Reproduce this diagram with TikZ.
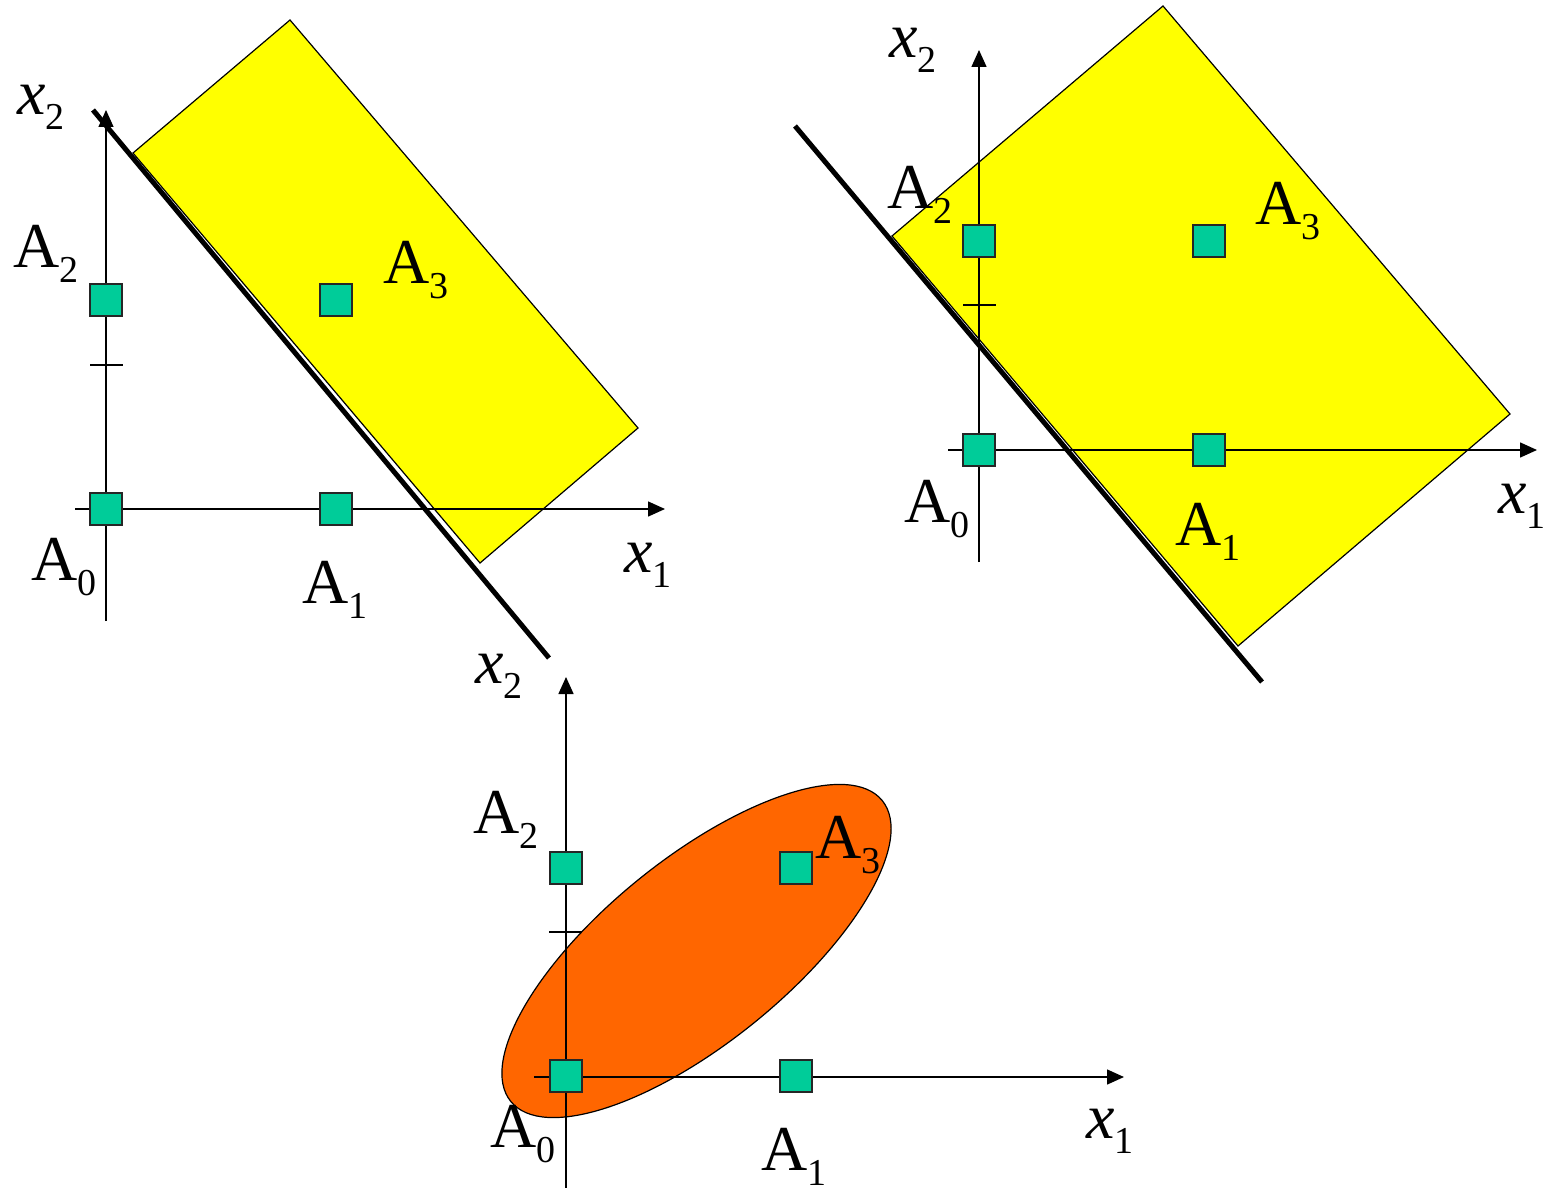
\documentclass[tikz,border=0pt]{standalone}
\usepackage{fontspec}
\setmainfont{Liberation Serif}
\usetikzlibrary{arrows.meta}
\definecolor{sqfill}{HTML}{00CC99}
\definecolor{yel}{HTML}{FFFF00}
\definecolor{org}{HTML}{FF6600}
\newcommand\lab[2]{#1\raisebox{-7.5pt}{\fontsize{19}{19}\selectfont #2}}
\begin{document}
\begin{tikzpicture}[x=0.5pt,y=-0.5pt,
  axisline/.style={line width=0.75pt},
  axis/.style={line width=0.75pt,-{Triangle[length=8.5pt,width=7.5pt]}},
  sepline/.style={line width=2.5pt},
  region/.style={draw=black,line width=0.6pt},
  pt/.style={draw=black!85,fill=sqfill,line width=0.8pt,minimum size=16pt,inner sep=0pt},
  lbl/.style={anchor=base west,inner sep=0pt,font=\fontsize{32}{36}\selectfont}]
\useasboundingbox (0,0) rectangle (1547,1188);

% ---------- panel 1 ----------
\filldraw[region,fill=yel] (133,153)--(290,20)--(638,428)--(480,563)--cycle;
\coordinate (p1o) at (106,509);
\coordinate (p1yb) at (106,621);
\coordinate (p1yt) at (106,110);
\coordinate (p1xl) at (75,509);
\coordinate (p1xr) at (665,509);
\coordinate (p1t1) at (90,365);
\coordinate (p1t2) at (123,365);
\coordinate (p1s1) at (93,110);
\coordinate (p1s2) at (549,658);
\draw[axis] (p1yb) -- (p1yt);
\draw[axis] (p1xl) -- (p1xr);
\draw[axisline] (p1t1) -- (p1t2);
\draw[sepline] (p1s1) -- (p1s2);
\node[pt] (p1a0) at (106,509) {};
\node[pt] (p1a1) at (336,509) {};
\node[pt] (p1a2) at (106,300) {};
\node[pt] (p1a3) at (336,300) {};
\node[lbl] (p1x2) at (17,115) {\lab{\textit{x}}{2}};
\node[lbl] (p1l2) at (13,267) {\lab{A}{2}};
\node[lbl] (p1l3) at (383,283) {\lab{A}{3}};
\node[lbl] (p1l0) at (31,580) {\lab{A}{0}};
\node[lbl] (p1l1) at (302,603) {\lab{A}{1}};
\node[lbl] (p1x1) at (624,572) {\lab{\textit{x}}{1}};

% ---------- panel 2 ----------
\filldraw[region,fill=yel] (892,236)--(1163,6)--(1510,414)--(1238,646)--cycle;
\coordinate (p2yb) at (979,562);
\coordinate (p2yt) at (979,50);
\coordinate (p2xl) at (948,450);
\coordinate (p2xr) at (1537,450);
\coordinate (p2t1) at (963,305);
\coordinate (p2t2) at (996,305);
\coordinate (p2s1) at (795,126);
\coordinate (p2s2) at (1262,682);
\draw[axis] (p2yb) -- (p2yt);
\draw[axis] (p2xl) -- (p2xr);
\draw[axisline] (p2t1) -- (p2t2);
\draw[sepline] (p2s1) -- (p2s2);
\node[pt] (p2a0) at (979,450) {};
\node[pt] (p2a1) at (1209,450) {};
\node[pt] (p2a2) at (979,241) {};
\node[pt] (p2a3) at (1209,241) {};
\node[lbl] (p2x2) at (889,58) {\lab{\textit{x}}{2}};
\node[lbl] (p2l2) at (887,208) {\lab{A}{2}};
\node[lbl] (p2l3) at (1255,224) {\lab{A}{3}};
\node[lbl] (p2l0) at (904,522) {\lab{A}{0}};
\node[lbl] (p2l1) at (1175,545) {\lab{A}{1}};
\node[lbl] (p2x1) at (1498,513) {\lab{\textit{x}}{1}};

% ---------- panel 3 ----------
\filldraw[region,fill=org,rotate around={39:(696.5,951)}] (696.5,951) ellipse [x radius=119.5pt, y radius=46pt];
\coordinate (p3yb) at (566,1188);
\coordinate (p3yt) at (566,677);
\coordinate (p3xl) at (534,1077);
\coordinate (p3xr) at (1124,1077);
\coordinate (p3t1) at (549,932);
\coordinate (p3t2) at (582,932);
\draw[axis] (p3yb) -- (p3yt);
\draw[axis] (p3xl) -- (p3xr);
\draw[axisline] (p3t1) -- (p3t2);
\node[pt] (p3a0) at (566,1076) {};
\node[pt] (p3a1) at (796,1076) {};
\node[pt] (p3a2) at (566,868) {};
\node[pt] (p3a3) at (796,868) {};
\node[lbl] (p3x2) at (475,683) {\lab{\textit{x}}{2}};
\node[lbl] (p3l2) at (473,833) {\lab{A}{2}};
\node[lbl] (p3l3) at (815,858) {\lab{A}{3}};
\node[lbl] (p3l0) at (490,1147) {\lab{A}{0}};
\node[lbl] (p3l1) at (761,1170) {\lab{A}{1}};
\node[lbl] (p3x1) at (1086,1138) {\lab{\textit{x}}{1}};
\end{tikzpicture}
\end{document}
